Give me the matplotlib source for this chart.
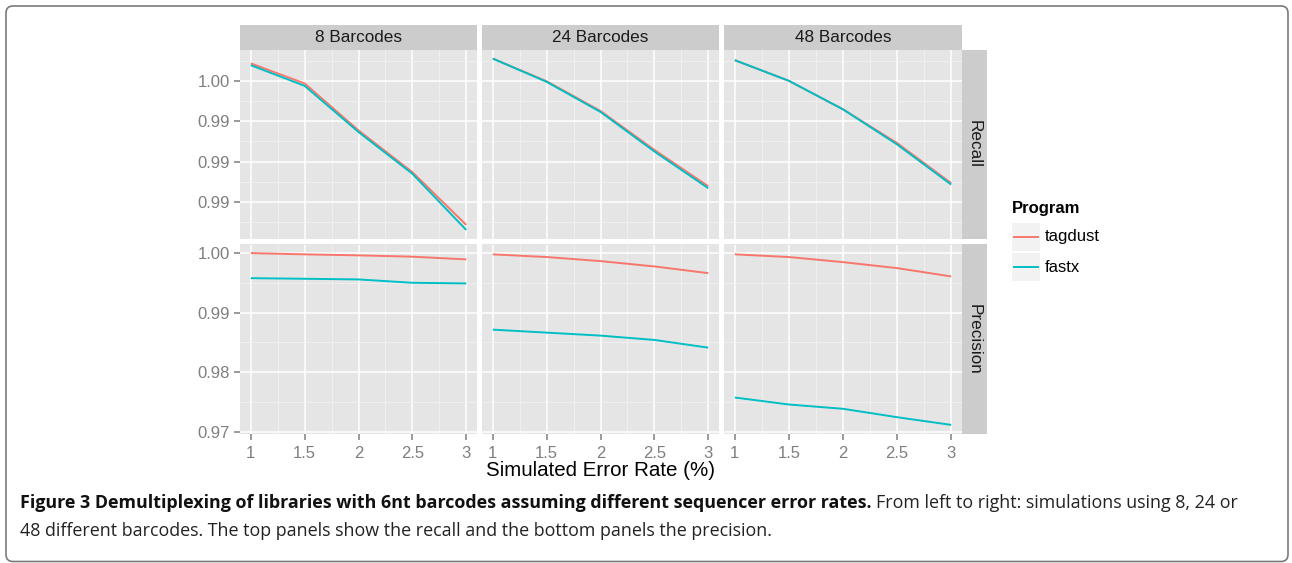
import matplotlib
matplotlib.use("Agg")
import matplotlib.pyplot as plt
from matplotlib.patches import FancyBboxPatch, Rectangle

# Data
error_rates = [1, 1.5, 2, 2.5, 3]
barcode_sets = ["8 Barcodes", "24 Barcodes", "48 Barcodes"]
metrics = ["Recall", "Precision"]
programs = ["tagdust", "fastx"]

# one list per barcode set (8, 24, 48)
recall_tagdust = [
    [0.99689, 0.99589, 0.99355, 0.99147, 0.98884],
    [0.99713, 0.99600, 0.99452, 0.99258, 0.99077],
    [0.99705, 0.99602, 0.99460, 0.99292, 0.99092],
]
recall_fastx = [
    [0.99680, 0.99577, 0.99347, 0.99139, 0.98859],
    [0.99713, 0.99597, 0.99447, 0.99250, 0.99067],
    [0.99705, 0.99602, 0.99460, 0.99285, 0.99085],
]
precision_tagdust = [
    [0.99993, 0.99972, 0.99955, 0.99933, 0.99888],
    [0.99972, 0.99927, 0.99859, 0.99770, 0.99658],
    [0.99972, 0.99927, 0.99842, 0.99742, 0.99603],
]
precision_fastx = [
    [0.99574, 0.99564, 0.99553, 0.99497, 0.99486],
    [0.98714, 0.98664, 0.98614, 0.98542, 0.98413],
    [0.97580, 0.97463, 0.97391, 0.97251, 0.97122],
]

recall_ticks = [0.990, 0.992, 0.994, 0.996]
recall_ticklabels = ["0.99", "0.99", "0.99", "1.00"]
precision_ticks = [0.97, 0.98, 0.99, 1.00]
precision_ticklabels = ["0.97", "0.98", "0.99", "1.00"]
x_ticks = [1, 1.5, 2, 2.5, 3]
x_ticklabels = ["1", "1.5", "2", "2.5", "3"]

caption_bold = "Figure 3 Demultiplexing of libraries with 6nt barcodes assuming different sequencer error rates."
caption_rest = "From left to right: simulations using 8, 24 or"
caption_line2 = "48 different barcodes. The top panels show the recall and the bottom panels the precision."

colors = {"tagdust": "#F8766D", "fastx": "#00BFC4"}

plt.rcParams["font.family"] = ["Liberation Sans", "DejaVu Sans"]

W, H = 1292, 563
fig = plt.figure(figsize=(W / 100, H / 100), dpi=100)


def box(x0, y0, x1, y1):
    # pixel box (top-left origin) -> figure fraction
    return [x0 / W, 1 - y1 / H, (x1 - x0) / W, (y1 - y0) / H]


col_x = [(240, 477), (482, 719), (724, 962)]
row_y = [(50, 238.5), (244.5, 433.5)]

data = {
    ("Recall", "tagdust"): recall_tagdust,
    ("Recall", "fastx"): recall_fastx,
    ("Precision", "tagdust"): precision_tagdust,
    ("Precision", "fastx"): precision_fastx,
}

for r, metric in enumerate(metrics):
    # shared y-range per row, ggplot style 5% expansion
    vals = [v for p in programs for row in data[(metric, p)] for v in row]
    lo, hi = min(vals), max(vals)
    pad = (hi - lo) * 0.05
    if metric == "Recall":
        ticks, labels = recall_ticks, recall_ticklabels
    else:
        ticks, labels = precision_ticks, precision_ticklabels
    step = ticks[1] - ticks[0]
    minor = [t + step / 2 for t in [ticks[0] - step] + ticks]

    for c, bset in enumerate(barcode_sets):
        x0, x1 = col_x[c]
        y0, y1 = row_y[r]
        ax = fig.add_axes(box(x0, y0, x1, y1))
        ax.set_facecolor("#E5E5E5")
        for s in ax.spines.values():
            s.set_visible(False)

        for p in programs:
            ax.plot(error_rates, data[(metric, p)][c], color=colors[p], lw=1.4,
                    solid_capstyle="butt", zorder=3)

        ax.set_xticks(x_ticks)
        ax.set_xticks([1.25, 1.75, 2.25, 2.75], minor=True)
        ax.set_yticks(ticks)
        ax.set_yticks(minor, minor=True)
        ax.set_xticklabels(x_ticklabels)
        ax.set_yticklabels(labels)
        # limits after ticks so the minor ticks don't widen the view
        ax.set_xlim(0.9, 3.1)
        ax.set_ylim(lo - pad, hi + pad)
        ax.set_axisbelow(True)
        ax.grid(which="major", color="white", lw=1.1)
        ax.grid(which="minor", color="#F2F2F2", lw=0.6)
        ax.tick_params(which="minor", length=0)
        ax.tick_params(which="major", length=4, width=1.1, color="#7F7F7F",
                       labelcolor="#7F7F7F", labelsize=12, pad=3.5)
        ax.tick_params(axis="x", pad=5)
        if c > 0:
            ax.tick_params(axis="y", left=False, labelleft=False)
        if r == 0:
            ax.tick_params(axis="x", bottom=False, labelbottom=False)

        # column strip
        if r == 0:
            sx = fig.add_axes(box(x0, 25, x1, 50))
            sx.set_facecolor("#CCCCCC")
            sx.set_xticks([])
            sx.set_yticks([])
            for s in sx.spines.values():
                s.set_visible(False)
            sx.text(0.5, 0.5, bset, ha="center", va="center", fontsize=12.3,
                    color="#1A1A1A", transform=sx.transAxes)

    # row strip
    sy = fig.add_axes(box(962, row_y[r][0], 987, row_y[r][1]))
    sy.set_facecolor("#CCCCCC")
    sy.set_xticks([])
    sy.set_yticks([])
    for s in sy.spines.values():
        s.set_visible(False)
    sy.text(0.5, 0.5, metric, ha="center", va="center", rotation=270,
            fontsize=12.3, color="#1A1A1A", transform=sy.transAxes)

fig.text(601 / W, 1 - 470 / H, "Simulated Error Rate (%)", ha="center",
         va="center", fontsize=14.8, color="black")

# overlay in pixel coords for legend, caption and frame
ov = fig.add_axes([0, 0, 1, 1])
ov.set_xlim(0, W)
ov.set_ylim(H, 0)
ov.axis("off")

ov.text(1012, 208, "Program", ha="left", va="center", fontsize=12,
        fontweight="bold")
for i, p in enumerate(programs):
    ky = 223 + i * 30
    ov.add_patch(Rectangle((1012, ky), 28, 28, facecolor="#F2F2F2",
                           edgecolor="none"))
    ov.plot([1014, 1038], [ky + 14, ky + 14], color=colors[p], lw=1.4)
    ov.text(1045, ky + 14, p, ha="left", va="center", fontsize=12)

frame = FancyBboxPatch((6, 6), 1282, 555.5,
                       boxstyle="round,pad=0,rounding_size=7",
                       facecolor="none", edgecolor="#7A7A7A", lw=1.2)
ov.add_patch(frame)

cap_font = ["Open Sans", "DejaVu Sans"]
t1 = ov.text(20, 508.5, caption_bold, ha="left", va="baseline", fontsize=10,
             fontweight="bold", family=cap_font, color="#111111")
fig.canvas.draw()
rend = fig.canvas.get_renderer()
w = t1.get_window_extent(rend).width
fs = 10 * 856 / w
t1.set_fontsize(fs)
fig.canvas.draw()
bb = t1.get_window_extent(rend)
t2 = ov.text(bb.x1 + 5, 508.5, caption_rest, ha="left", va="baseline",
             fontsize=fs, family=cap_font, color="#222222")
ov.text(20, 535.5, caption_line2, ha="left", va="baseline", fontsize=fs,
        family=cap_font, color="#222222")

fig.savefig("out.png", dpi=100)
